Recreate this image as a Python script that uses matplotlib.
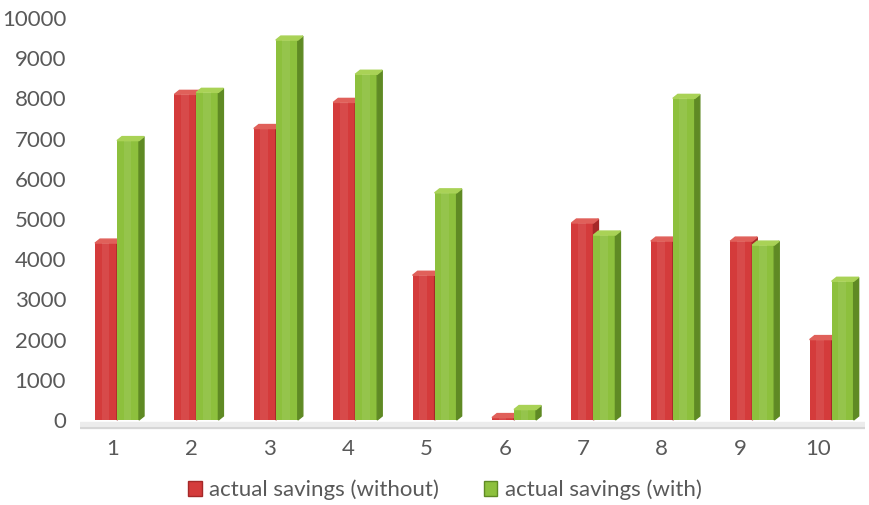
import matplotlib
matplotlib.use('Agg')
import matplotlib.pyplot as plt
from matplotlib.patches import Polygon, Patch

plt.rcParams['font.family'] = ['Lato', 'DejaVu Sans']

categories = ['1', '2', '3', '4', '5', '6', '7', '8', '9', '10']
without = [4400, 8100, 7250, 7900, 3600, 60, 4900, 4450, 4450, 2000]
with_ = [6950, 8150, 9450, 8600, 5650, 260, 4600, 8000, 4350, 3450]
series_names = ['actual savings (without)', 'actual savings (with)']

red = '#D43B3B'
red_side = '#A52828'
red_top = '#E0605A'
green = '#8DC03D'
green_side = '#5F8A24'
green_top = '#A9D256'
txt = '#595959'

fig = plt.figure(figsize=(8.7, 5.05), dpi=100)
# axes placed so that 0 sits at y=420px and 10000 at y=18px
ax = fig.add_axes([80 / 870, (505 - 435) / 505, 785 / 870, (435 - 18) / 505])
ax.set_ylim(-373, 10000)
ax.set_xlim(-0.466, 9.42)

w = 0.277      # bar width
dx = 0.063     # depth offset, x
dy = 100       # depth offset, y

# floor strip
ax.axhspan(-200, -40, color='#ECECEC', zorder=0)
ax.axhline(-200, color='#D6D6D6', lw=1.5, zorder=0)


def bar3d(x0, v, front, side, top, z):
    x1 = x0 + w
    ax.bar(x0, v, width=w, align='edge', color=front, zorder=z,
           edgecolor='none')
    ax.add_patch(Polygon([(x1, 0), (x1 + dx, dy), (x1 + dx, v + dy), (x1, v)],
                         closed=True, color=side, zorder=z))
    ax.add_patch(Polygon([(x0, v), (x1, v), (x1 + dx, v + dy), (x0 + dx, v + dy)],
                         closed=True, color=top, zorder=z))
    # soft highlight down the middle of the front face
    ax.bar(x0 + w * 0.3, v, width=w * 0.35, align='edge', color='white',
           alpha=0.08, zorder=z, edgecolor='none')


for i in range(len(categories)):
    bar3d(i - w, without[i], red, red_side, red_top, 2 + i * 0.01)
    bar3d(i, with_[i], green, green_side, green_top, 3 + i * 0.01)

ax.set_yticks(range(0, 10001, 1000))
ax.set_yticklabels([str(t) for t in range(0, 10001, 1000)])
ticks = [i - 0.05 - 0.0133 * i for i in range(len(categories))]
ax.set_xticks(ticks)
ax.set_xticklabels(categories)
ax.tick_params(axis='both', length=0, labelsize=16, labelcolor=txt)
ax.tick_params(axis='y', pad=10)
ax.tick_params(axis='x', pad=3)
for s in ax.spines.values():
    s.set_visible(False)

handles = [Patch(facecolor=red, edgecolor=red_side),
           Patch(facecolor=green, edgecolor=green_side)]
leg = fig.legend(handles, series_names, loc='center', ncol=2,
                 bbox_to_anchor=(445 / 870, 1 - 490 / 505), frameon=False,
                 fontsize=16, handlelength=0.6, handleheight=0.6,
                 handletextpad=0.35, columnspacing=2.0)
for t in leg.get_texts():
    t.set_color(txt)

fig.savefig('out.png', dpi=100)
